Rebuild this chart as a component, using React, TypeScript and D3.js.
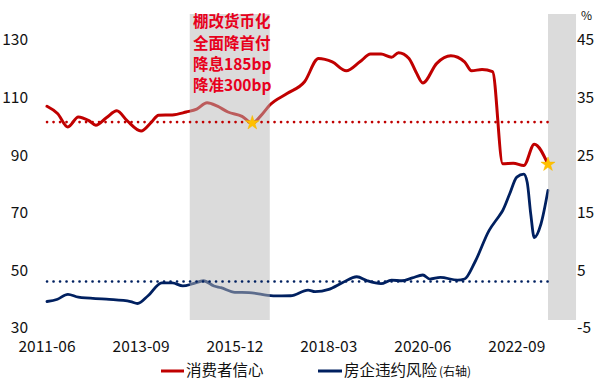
import React from "react";
import * as d3 from "d3";

const redDates = ["2011-06","2011-09","2011-12","2012-03","2012-06","2012-08","2012-11","2013-02","2013-05","2013-09","2013-12","2014-02","2014-06","2014-10","2015-01","2015-04","2015-07","2015-10","2016-02","2016-05","2016-08","2016-10","2017-03","2017-08","2017-12","2018-04","2018-08","2018-12","2019-03","2019-06","2019-09","2019-11","2020-02","2020-04","2020-06","2020-10","2021-02","2021-06","2021-08","2021-11","2022-02","2022-05","2022-08","2022-11","2023-02","2023-06"];
const redValues = [107,104.5,99.8,103.3,102,100.4,103,105.4,102,98.4,101.5,103.9,104,105,106,108.2,107,105,103.5,101.2,104.5,107.4,111.4,115.5,123.6,122.4,119.3,122.5,125.1,125.1,124,125.6,123.6,119,115.1,121.9,124.5,122.4,119.3,119.8,119,87,87.2,86.4,93.8,86.8];

const blueDates = ["2011-06","2011-09","2011-12","2012-03","2012-11","2013-06","2013-08","2013-11","2014-03","2014-06","2014-09","2014-12","2015-03","2015-06","2015-08","2015-12","2016-04","2016-11","2017-04","2017-09","2017-11","2018-03","2018-07","2018-11","2019-02","2019-06","2019-09","2019-12","2020-03","2020-06","2020-08","2020-11","2021-04","2021-06","2021-09","2022-01","2022-04","2022-05","2022-07","2022-09","2022-11","2022-12","2023-01","2023-02","2023-04","2023-06"];
const blueValues = [-0.4,0,0.85,0.35,0,-0.4,-0.75,0.6,2.85,2.85,2.3,2.7,3.2,2.3,2.0,1.2,1.15,0.57,0.6,1.57,1.3,1.7,2.9,3.9,3.2,2.7,3.3,3.2,3.7,4.2,3.5,3.8,3.3,3.5,6.5,11.9,14.5,15.4,18.3,21.2,21.7,20.3,14.8,10.7,13.1,18.9];

const xTickLabels = ["2011-06","2013-09","2015-12","2018-03","2020-06","2022-09"];
const leftTicks = [30,50,70,90,110,130];
const rightTicks = [-5,5,15,25,35,45];

const redAvg = 101.5;
const blueAvg = 3.07;
const shadeStarts = ["2014-11","2023-06"];
const shadeEnds = ["2016-10","2024-02"];
const starDates = ["2016-05","2023-06"];
const noteLines = ["棚改货币化","全面降首付","降息185bp","降准300bp"];
const legendLabels = ["消费者信心","房企违约风险"];

const RED = "#c00000";
const NAVY = "#002060";
const FONT = "'Noto Sans CJK SC', 'Noto Sans', sans-serif";

const parse = d3.timeParse("%Y-%m");

export default function App() {
  const W = 600, H = 385;
  const x = d3.scaleTime().domain([parse("2011-06")!, parse("2023-06")!]).range([47, 548]);
  const yL = d3.scaleLinear().domain([30, 130]).range([328, 40]);
  const yR = d3.scaleLinear().domain([-5, 45]).range([328, 40]);

  const red = redDates.map((d, i) => ({ d: parse(d)!, v: redValues[i] }));
  const blue = blueDates.map((d, i) => ({ d: parse(d)!, v: blueValues[i] }));

  const redLine = d3.line<{ d: Date; v: number }>().x(p => x(p.d)).y(p => yL(p.v)).curve(d3.curveMonotoneX);
  const blueLine = d3.line<{ d: Date; v: number }>().x(p => x(p.d)).y(p => yR(p.v)).curve(d3.curveMonotoneX);

  const bandTop = 14, bandBottom = 320;
  const star = d3.symbol().type(d3.symbolStar).size(62)()!;
  const dotX0 = 47, dotX1 = 551;

  return (
    <svg width={W} height={H} style={{ position: "absolute", left: 0, top: 0, background: "#fff" }} fontFamily={FONT}>
      <path d={redLine(red)!} fill="none" stroke={RED} strokeWidth={3} strokeLinejoin="round" strokeLinecap="round" />
      <path d={blueLine(blue)!} fill="none" stroke={NAVY} strokeWidth={2.8} strokeLinejoin="round" strokeLinecap="round" />
      {shadeStarts.map((s, i) => (
        <rect key={i} x={x(parse(s)!)} y={bandTop} width={x(parse(shadeEnds[i])!) - x(parse(s)!)} height={bandBottom - bandTop} fill="#b8b8b8" opacity={0.5} />
      ))}
      <line x1={dotX0} x2={dotX1} y1={yL(redAvg)} y2={yL(redAvg)} stroke={RED} strokeWidth={2.6} strokeDasharray="0.1 6.4" strokeLinecap="round" />
      <line x1={dotX0} x2={dotX1} y1={yR(blueAvg)} y2={yR(blueAvg)} stroke={NAVY} strokeWidth={2.6} strokeDasharray="0.1 6.4" strokeLinecap="round" />
      {starDates.map((s, i) => {
        const idx = redDates.indexOf(s);
        return <path key={i} d={star} transform={`translate(${x(parse(s)!)},${yL(redValues[idx])})`} fill="#ffc000" stroke="#f5b800" strokeWidth={0.5} />;
      })}
      {noteLines.map((t, i) => (
        <text key={i} x={193} y={22 + i * 21.3} dy="0.35em" fill="#e8001c" fontSize={15.5} fontWeight="bold">{t}</text>
      ))}
      {leftTicks.map(t => (
        <text key={t} x={28} y={yL(t)} dy="0.35em" textAnchor="end" fontSize={15.5} fill="#111">{t}</text>
      ))}
      {rightTicks.map(t => (
        <text key={t} x={577} y={yR(t)} dy="0.35em" textAnchor="start" fontSize={15.5} fill="#111">{t}</text>
      ))}
      <text x={581} y={16} dy="0.35em" fontSize={12} fill="#111">%</text>
      {xTickLabels.map(t => (
        <text key={t} x={x(parse(t)!)} y={347} dy="0.35em" textAnchor="middle" fontSize={15.5} fill="#111">{t}</text>
      ))}
      <line x1={161} x2={184} y1={371} y2={371} stroke={RED} strokeWidth={3} />
      <text x={186} y={371} dy="0.35em" fontSize={15.5} fill="#111">{legendLabels[0]}</text>
      <line x1={318} x2={342} y1={371} y2={371} stroke={NAVY} strokeWidth={3} />
      <text x={344} y={371} dy="0.35em" fontSize={15.5} fill="#111">{legendLabels[1]}<tspan fontSize={12} dx={2}>(右轴)</tspan></text>
    </svg>
  );
}
